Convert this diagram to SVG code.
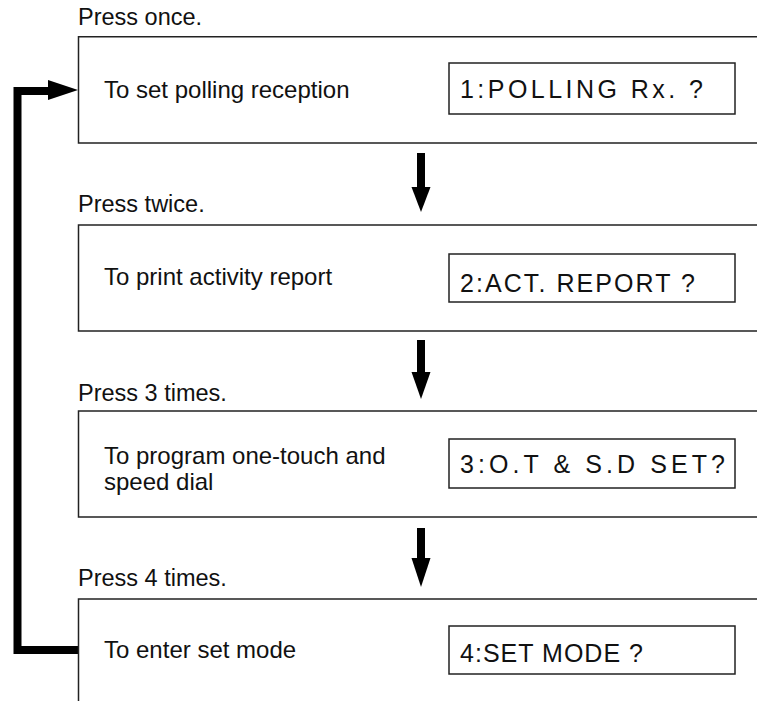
<svg xmlns="http://www.w3.org/2000/svg" width="757" height="701" viewBox="0 0 757 701">
<style>
.box{fill:none;stroke:#222;stroke-width:1.5}
.lcd{fill:none;stroke:#222;stroke-width:1.5}
.p{font-family:"Liberation Sans",Arial,sans-serif;font-size:23.5px;fill:#111}
.t{font-family:"Liberation Sans",Arial,sans-serif;font-size:24px;fill:#111}
.m{font-family:"Liberation Sans",Arial,sans-serif;font-size:25px;fill:#111;white-space:pre}
.conn{fill:none;stroke:#000;stroke-width:8}
.head{fill:#000}
</style>
<rect width="757" height="701" fill="#fff"/>
<g id="connectors">
<polyline class="conn" points="78,650 17.5,650 17.5,91 52,91" stroke-linejoin="miter"/>
<polygon class="head" points="48,80 78,90 48,100"/>
<line class="conn" x1="421" y1="153" x2="421" y2="190"/>
<polygon class="head" points="411.5,187 430.5,187 421,212"/>
<line class="conn" x1="421" y1="340" x2="421" y2="375"/>
<polygon class="head" points="411.5,372 430.5,372 421,399"/>
<line class="conn" x1="421" y1="528" x2="421" y2="561"/>
<polygon class="head" points="411.5,558 430.5,558 421,587"/>
</g>
<g id="node1">
<text class="p" x="78" y="25">Press once.</text>
<path class="box" d="M757,36.7 H78.5 V143 H757"/>
<text class="t" x="104" y="98">To set polling reception</text>
<rect class="lcd" x="449" y="63" width="286" height="51"/>
<text class="m" x="460" y="98" textLength="243" lengthAdjust="spacing">1:POLLING Rx. ?</text>
</g>
<g id="node2">
<text class="p" x="78" y="212">Press twice.</text>
<path class="box" d="M757,225 H78.5 V331 H757"/>
<text class="t" x="104" y="285">To print activity report</text>
<rect class="lcd" x="449" y="254" width="286" height="48"/>
<text class="m" x="460" y="292" textLength="235" lengthAdjust="spacing">2:ACT. REPORT ?</text>
</g>
<g id="node3">
<text class="p" x="78" y="401">Press 3 times.</text>
<path class="box" d="M757,411 H78.5 V517 H757"/>
<text class="t" x="104" y="464">To program one-touch and</text>
<text class="t" x="104" y="490">speed dial</text>
<rect class="lcd" x="449" y="439" width="286" height="49"/>
<text class="m" x="460" y="473" textLength="265" lengthAdjust="spacing">3:O.T &amp; S.D SET?</text>
</g>
<g id="node4">
<text class="p" x="78" y="586">Press 4 times.</text>
<path class="box" d="M757,599 H78.5 V701"/>
<text class="t" x="104" y="658">To enter set mode</text>
<rect class="lcd" x="449" y="626" width="286" height="48"/>
<text class="m" x="460" y="662" textLength="183" lengthAdjust="spacing">4:SET MODE ?</text>
</g>
</svg>
